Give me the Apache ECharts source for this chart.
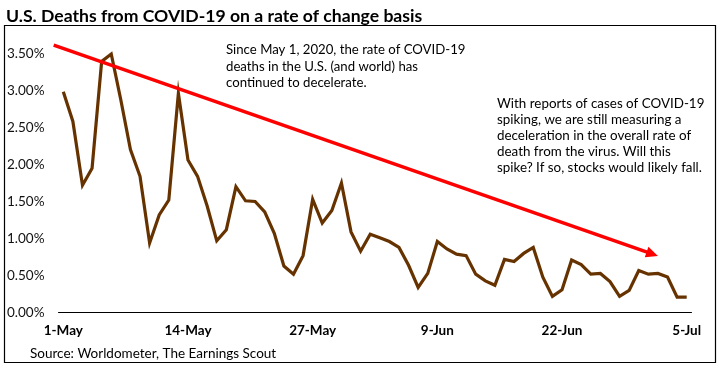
<!DOCTYPE html>
<html>
<head>
<meta charset="utf-8">
<script src="https://cdn.jsdelivr.net/npm/echarts@6/dist/echarts.min.js"></script>
<style>html,body{margin:0;padding:0;background:#fff;}#chart{width:720px;height:366px;}</style>
</head>
<body>
<div id="chart"></div>
<script>
// Categories: daily dates 1-May .. 5-Jul (2020)
const months = [['May', 31], ['Jun', 30], ['Jul', 5]];
const dates = [];
months.forEach(([m, n]) => { for (let d = 1; d <= n; d++) dates.push(d + '-' + m); });

// Daily rate of change in U.S. COVID-19 deaths (%)
const deathRate = [
  2.98, 2.58, 1.72, 1.95, 3.39, 3.49, 2.87, 2.20, 1.84, 0.94,
  1.32, 1.52, 2.96, 2.06, 1.84, 1.44, 0.97, 1.12, 1.70, 1.51,
  1.50, 1.36, 1.07, 0.63, 0.52, 0.77, 1.53, 1.21, 1.38, 1.75,
  1.09, 0.83, 1.06, 1.01, 0.96, 0.88, 0.64, 0.34, 0.53, 0.96,
  0.86, 0.79, 0.77, 0.52, 0.43, 0.37, 0.72, 0.69, 0.80, 0.88,
  0.48, 0.22, 0.31, 0.71, 0.65, 0.52, 0.53, 0.42, 0.22, 0.30,
  0.57, 0.52, 0.53, 0.48, 0.21, 0.21
];

// Y axis ticks (%)
const yTicks = [0, 0.5, 1.0, 1.5, 2.0, 2.5, 3.0, 3.5];

// Trend arrow endpoints in data units [category index, %]
const trendStart = [-0.6, 3.61];
const trendEnd = [61.9, 0.765];

const titleText = 'U.S. Deaths from COVID-19 on a rate of change basis';
const note1 = ['Since May 1, 2020, the rate of COVID-19', 'deaths in the U.S. (and world) has', 'continued to decelerate.'];
const note2 = ['With reports of cases of COVID-19', 'spiking, we are still measuring a', 'deceleration in the overall rate of', 'death from the virus. Will this', 'spike? If so, stocks would likely fall.'];
const sourceText = 'Source: Worldometer, The Earnings Scout';

const FONT = 'Lato, "Open Sans", sans-serif';
const chart = echarts.init(document.getElementById('chart'), null, {renderer: 'canvas'});
const baseGraphics = [
  {type: 'rect', shape: {x: 4.5, y: 25.5, width: 711, height: 337}, style: {fill: 'none', stroke: '#000', lineWidth: 1.2}, z: -1},
  {type: 'text', left: 226, top: 42, style: {text: note1.join('\n'), fontFamily: FONT, fontSize: 13.2, lineHeight: 16.2, fill: '#000'}},
  {type: 'text', left: 497, top: 96, style: {text: note2.join('\n'), fontFamily: FONT, fontSize: 13.4, lineHeight: 15.9, fill: '#000'}},
  {type: 'text', left: 30, top: 347, style: {text: sourceText, fontFamily: FONT, fontSize: 13.5, fill: '#000'}}
];
chart.setOption({
  animation: false,
  backgroundColor: '#fff',
  title: {
    text: titleText, left: 1, top: 2,
    textStyle: {fontFamily: FONT, fontSize: 17.6, fontWeight: 'bold', color: '#000'}
  },
  grid: {left: 58.5, right: 28.5, top: 53.3, bottom: 53.3, containLabel: false},
  xAxis: {
    type: 'category', data: dates, boundaryGap: true,
    axisLine: {lineStyle: {color: '#000', width: 1}},
    axisTick: {show: false},
    axisLabel: {interval: 12, margin: 11, fontFamily: FONT, fontSize: 13.5, fontWeight: 'bold', color: '#000'},
    splitLine: {show: false}
  },
  yAxis: {
    type: 'value', min: yTicks[0], max: yTicks[yTicks.length - 1], interval: yTicks[1] - yTicks[0],
    axisLine: {show: false}, axisTick: {show: false}, splitLine: {show: false},
    axisLabel: {margin: 14, fontFamily: FONT, fontSize: 13.5, color: '#111', formatter: v => v.toFixed(2) + '%'}
  },
  series: [{
    type: 'line', data: deathRate, symbol: 'none', clip: false, z: 3,
    lineStyle: {color: '#663300', width: 3.2, join: 'miter'}
  }],
  graphic: baseGraphics
});

// Trend arrow: endpoints converted from data units through the chart's own axes
const p0 = chart.convertToPixel({seriesIndex: 0}, trendStart);
const p1 = chart.convertToPixel({seriesIndex: 0}, trendEnd);
const dx = p1[0] - p0[0], dy = p1[1] - p0[1];
const len = Math.sqrt(dx * dx + dy * dy);
const ux = dx / len, uy = dy / len;
const headLen = 12, headHalf = 5.5;
const bx = p1[0] - ux * headLen, by = p1[1] - uy * headLen;
chart.setOption({
  graphic: baseGraphics.concat([
    {type: 'line', shape: {x1: p0[0], y1: p0[1], x2: bx + ux * 2, y2: by + uy * 2}, style: {stroke: '#ff0000', lineWidth: 3.5}, z: 10},
    {type: 'polygon', shape: {points: [[p1[0], p1[1]], [bx - uy * headHalf, by + ux * headHalf], [bx + uy * headHalf, by - ux * headHalf]]}, style: {fill: '#ff0000'}, z: 10}
  ])
});
</script>
</body>
</html>
